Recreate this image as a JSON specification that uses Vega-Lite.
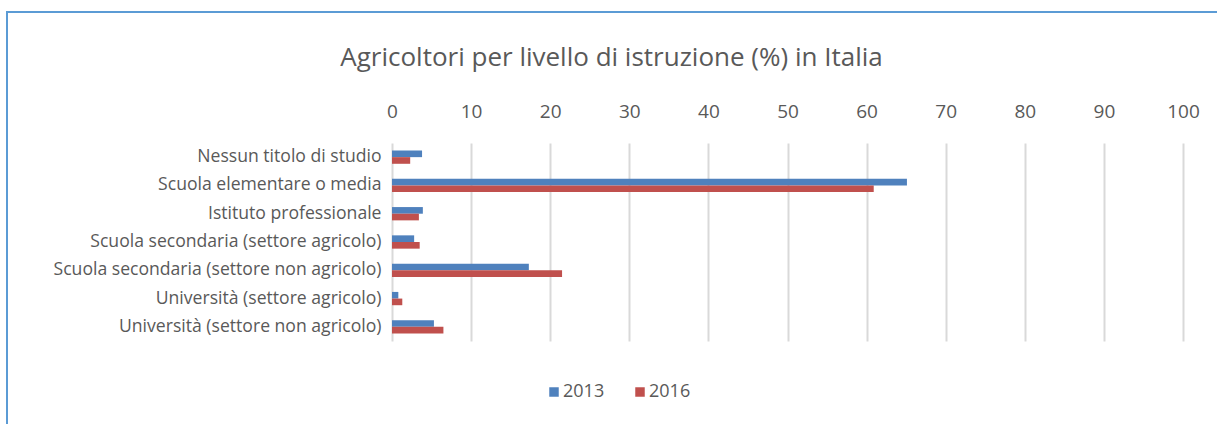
{
  "$schema": "https://vega.github.io/schema/vega-lite/v6.json",
  "width": 1215,
  "height": 416,
  "autosize": {"type": "none"},
  "padding": {"left": 7, "top": 12, "right": 0, "bottom": 0},
  "background": "white",
  "config": {
    "view": {"stroke": "#5b9bd5", "strokeWidth": 2},
    "font": "Open Sans"
  },
  "title": {
    "text": "Agricoltori per livello di istruzione (%) in Italia",
    "font": "Open Sans",
    "fontSize": 26,
    "fontWeight": "normal",
    "color": "#595959",
    "anchor": "middle",
    "frame": "group",
    "orient": "top",
    "offset": -59,
    "dx": -3
  },
  "data": {
    "values": [
      {"cat": "Nessun titolo di studio", "year": "2013", "value": 3.8},
      {"cat": "Nessun titolo di studio", "year": "2016", "value": 2.3},
      {"cat": "Scuola elementare o media", "year": "2013", "value": 65.1},
      {"cat": "Scuola elementare o media", "year": "2016", "value": 60.9},
      {"cat": "Istituto professionale", "year": "2013", "value": 3.9},
      {"cat": "Istituto professionale", "year": "2016", "value": 3.4},
      {"cat": "Scuola secondaria (settore agricolo)", "year": "2013", "value": 2.8},
      {"cat": "Scuola secondaria (settore agricolo)", "year": "2016", "value": 3.5},
      {"cat": "Scuola secondaria (settore non agricolo)", "year": "2013", "value": 17.3},
      {"cat": "Scuola secondaria (settore non agricolo)", "year": "2016", "value": 21.5},
      {"cat": "Università (settore agricolo)", "year": "2013", "value": 0.8},
      {"cat": "Università (settore agricolo)", "year": "2016", "value": 1.3},
      {"cat": "Università (settore non agricolo)", "year": "2013", "value": 5.3},
      {"cat": "Università (settore non agricolo)", "year": "2016", "value": 6.5}
    ]
  },
  "mark": {"type": "bar"},
  "encoding": {
    "y": {
      "field": "cat",
      "type": "nominal",
      "sort": null,
      "scale": {"range": [131, 329], "paddingInner": 0.53, "paddingOuter": 0.265},
      "axis": {
        "orient": "left",
        "offset": -378,
        "ticks": false,
        "domain": false,
        "grid": false,
        "labelPadding": 4,
        "title": null,
        "labelFont": "Open Sans",
        "labelFontSize": 17.6,
        "labelColor": "#595959",
        "labelLimit": 400
      }
    },
    "yOffset": {
      "field": "year",
      "type": "nominal",
      "sort": ["2013", "2016"],
      "scale": {"paddingInner": 0, "paddingOuter": 0}
    },
    "x": {
      "field": "value",
      "type": "quantitative",
      "scale": {"domain": [0, 100], "range": [385, 1176], "nice": false},
      "axis": {
        "orient": "top",
        "offset": -111,
        "values": [0, 10, 20, 30, 40, 50, 60, 70, 80, 90, 100],
        "grid": true,
        "gridColor": "#d9d9d9",
        "gridWidth": 2,
        "domain": false,
        "ticks": false,
        "labelFlush": false,
        "labelPadding": 2,
        "title": null,
        "labelFont": "Open Sans",
        "labelFontSize": 19,
        "labelColor": "#595959"
      }
    },
    "color": {
      "field": "year",
      "type": "nominal",
      "scale": {"domain": ["2013", "2016"], "range": ["#4f81bd", "#c0504d"]},
      "legend": {
        "orient": "none",
        "legendX": 538,
        "legendY": 371,
        "direction": "horizontal",
        "title": null,
        "symbolType": "square",
        "symbolSize": 90,
        "symbolStrokeWidth": 0,
        "labelFont": "Open Sans",
        "labelFontSize": 18,
        "labelColor": "#595959",
        "columnPadding": 26,
        "labelOffset": 0
      }
    }
  }
}
